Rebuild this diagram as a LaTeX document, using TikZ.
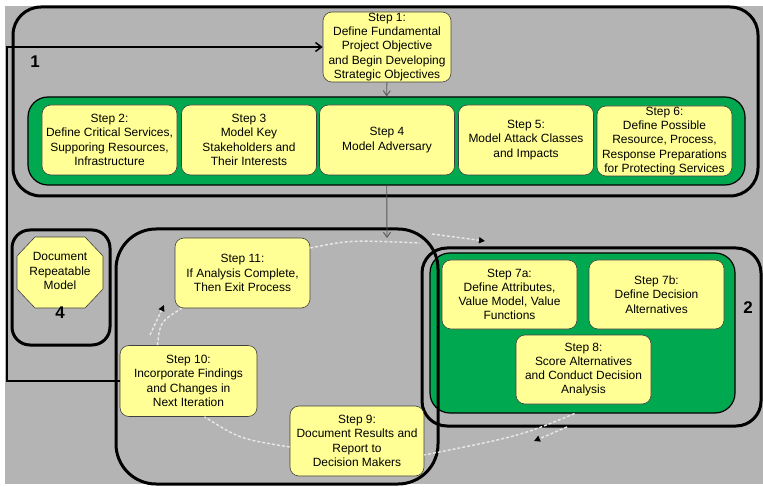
\documentclass[tikz,border=0pt]{standalone}
\usepackage{fontspec}
\setmainfont{Liberation Sans}
\usetikzlibrary{arrows.meta}
\definecolor{bggray}{RGB}{180,180,180}
\definecolor{stepyellow}{RGB}{255,255,150}
\definecolor{boxgreen}{RGB}{0,168,80}

\begin{document}
\begin{tikzpicture}[x=1bp, y=-1bp,
  stepbox/.style={draw=black!75, fill=stepyellow, rounded corners=9bp, align=center,
    inner sep=1bp, line width=0.6bp, minimum width=135bp, minimum height=70bp,
    font=\fontsize{12}{14.3}\selectfont},
  greenbox/.style={draw=black, fill=boxgreen, rounded corners=20bp, line width=1.2bp},
  grpbox/.style={draw=black, line width=3bp, rounded corners=#1},
  grplabel/.style={font=\fontsize{17}{17}\selectfont\bfseries},
  cyc/.style={densely dashed, draw=white!70!bggray, line width=1.4bp},
  cycarrow/.style={cyc, -{Triangle[length=6bp,width=6bp,black]}},
  down/.style={draw=black!65, line width=0.9bp, -{Straight Barb[length=5bp,width=7bp]}},
  fback/.style={line width=2.5bp, -{Straight Barb[length=6bp,width=9bp,line width=1.5bp]}}]
\useasboundingbox (0,0) rectangle (763,487);
\fill[bggray] (5,6) rectangle (763,484);

% group 1
\draw[grpbox=28bp] (13,7) rectangle (758,196);
\path (35,62) node[grplabel]{1};
\node[stepbox, minimum width=128bp] (s1) at (387,47) {Step 1:\\Define Fundamental\\Project Objective\\and Begin Developing\\Strategic Objectives};
\node[greenbox, minimum width=717bp, minimum height=88bp] (green1) at (386.5,141) {};
\node[stepbox] (s2) at (109.5,140) {Step 2:\\Define Critical Services,\\Supporing Resources,\\Infrastructure};
\node[stepbox] (s3) at (249,140) {Step 3\\Model Key\\Stakeholders and\\Their Interests};
\node[stepbox] (s4) at (387,140) {Step 4\\Model Adversary};
\node[stepbox] (s5) at (526,140) {Step 5:\\Model Attack Classes\\and Impacts};
\node[stepbox] (s6) at (664.5,141) {Step 6:\\Define Possible\\Resource, Process,\\Response Preparations\\for Protecting Services};
\draw[down] (s1) -- (green1);

% group 4
\draw[grpbox=18bp] (12,230) rectangle (110,345);
\filldraw[draw=black!75, fill=stepyellow, line width=0.6bp]
  (35,237) -- (85,237) -- (103,256) -- (103,289) -- (85,308) -- (35,308) -- (17,289) -- (17,256) -- cycle;
\node[align=center, inner sep=1bp, font=\fontsize{12}{14.3}\selectfont] (doc) at (60,271) {Document\\Repeatable\\Model};
\path (60,313) node[grplabel]{4};

% group 2
\draw[grpbox=25bp] (422,248) rectangle (761,426);
\path (748,308) node[grplabel]{2};
\node[greenbox, minimum width=305bp, minimum height=160bp] (green2) at (582.5,333) {};
\node[stepbox, minimum height=69bp] (s7a) at (509.5,294.5) {Step 7a:\\Define Attributes,\\Value Model, Value\\Functions};
\node[stepbox, minimum height=69bp] (s7b) at (656.5,294.5) {Step 7b:\\Define Decision\\Alternatives};
\node[stepbox, minimum height=69bp] (s8) at (583.5,369.5) {Step 8:\\Score Alternatives\\and Conduct Decision\\Analysis};

% group 3
\draw[grpbox=40bp] (116,229) rectangle (438,484);
\path (140,408) node[grplabel]{3};
\node[stepbox] (s11) at (242.5,273) {Step 11:\\If Analysis Complete,\\Then Exit Process};
\node[stepbox, minimum width=137bp, minimum height=71bp] (s10) at (188.5,381) {Step 10:\\Incorporate Findings\\and Changes in\\Next Iteration};
\node[stepbox, minimum width=134bp] (s9) at (357,441) {Step 9:\\Document Results and\\Report to\\Decision Makers};

% cycle
\coordinate (cyctop) at (420,243);
\coordinate (a11) at (432,234);
\coordinate (a2) at (485,241);
\coordinate (a8) at (567,427);
\coordinate (a9) at (534,441);
\coordinate (a10) at (150,335);
\coordinate (a11b) at (164,305);
\draw[cyc] ([yshift=25bp]s11.east) .. controls (350,240) .. (cyctop);
\draw[cycarrow] (a11) -- (a2);
\draw[cyc] ([xshift=-8bp]green2.south) .. controls (520,436) .. ([yshift=-14bp]s9.east);
\draw[cycarrow] (a8) -- (a9);
\draw[cyc] ([yshift=-6bp]s9.west) .. controls (240,439) .. ([xshift=16bp]s10.south);
\draw[cyc] ([xshift=-31bp]s10.north) .. controls (160,322) .. ([xshift=7bp]s11.south west);
\draw[cycarrow] (a10) -- (a11b);

\coordinate (cyc) at (387,238);
\draw[down] (green1) -- (cyc);

% feedback
\coordinate (fb) at (7,381);
\draw[fback] (s10.west) -- (fb) |- (s1.west);
\end{tikzpicture}
\end{document}
